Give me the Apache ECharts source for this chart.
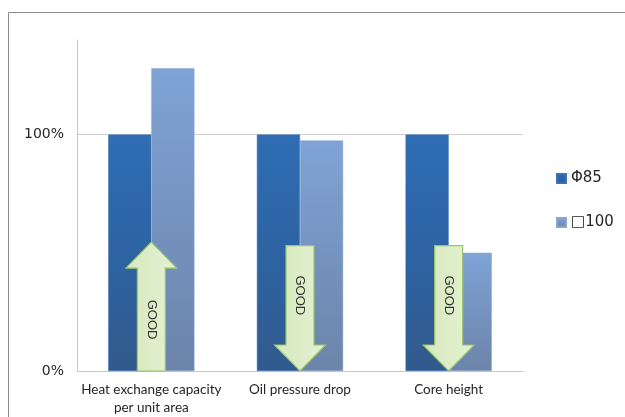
<!DOCTYPE html>
<html>
<head>
<meta charset="utf-8">
<script src="https://cdn.jsdelivr.net/npm/echarts@6/dist/echarts.min.js"></script>
<style>
  html, body { margin: 0; padding: 0; background: #ffffff; }
  #chart { width: 625px; height: 417px; }
</style>
</head>
<body>
<div id="chart"></div>
<script>
// Categories and series values (percent of the Φ85 baseline)
const categories = ['Heat exchange capacity\nper unit area', 'Oil pressure drop', 'Core height'];
const seriesNames = ['Φ85', '□100'];
const phi85 = [100, 100, 100];
const sq100 = [128, 97.5, 50];

// "GOOD" arrows: category index, start value, end value
const arrowCategory = [0, 1, 2];
const arrowFrom = [0, 53, 53];
const arrowTo = [54.5, 0, 0];
const arrowLabel = 'GOOD';

const yTicks = [0, 100];

const chart = echarts.init(document.getElementById('chart'), null, { renderer: 'canvas' });

const darkFill = new echarts.graphic.LinearGradient(0, 0, 0, 1, [
  { offset: 0, color: '#2f6db4' },
  { offset: 0.5, color: '#2d63a3' },
  { offset: 1, color: '#315a8c' }
]);
const lightFill = new echarts.graphic.LinearGradient(0, 0, 0, 1, [
  { offset: 0, color: '#7fa4d5' },
  { offset: 0.5, color: '#7593c0' },
  { offset: 1, color: '#6c84a9' }
]);

function arrowItem(params, api) {
  const cat = api.value(0);
  const p0 = api.coord([cat, api.value(1)]);
  const p1 = api.coord([cat, api.value(2)]);
  const cx = p0[0];
  const dir = p1[1] < p0[1] ? -1 : 1; // -1 points up
  const shaftHalf = 14;
  const headHalf = 25.5;
  const headLen = 26;
  const yStart = p0[1];
  const yTip = p1[1];
  const yBase = yTip - dir * headLen;
  const pts = [
    [cx - shaftHalf, yStart],
    [cx - shaftHalf, yBase],
    [cx - headHalf, yBase],
    [cx, yTip],
    [cx + headHalf, yBase],
    [cx + shaftHalf, yBase],
    [cx + shaftHalf, yStart]
  ];
  const shaftMid = (yStart + yBase) / 2;
  return {
    type: 'group',
    children: [
      {
        type: 'polygon',
        shape: { points: pts },
        style: {
          fill: new echarts.graphic.LinearGradient(0, 0, 1, 0, [
            { offset: 0, color: '#d6e9bd' },
            { offset: 1, color: '#e4f1d2' }
          ]),
          stroke: '#9cc46a',
          lineWidth: 1.2
        }
      },
      {
        type: 'text',
        x: cx,
        y: shaftMid,
        rotation: -Math.PI / 2,
        style: {
          text: arrowLabel,
          fill: '#333333',
          font: '13px "Liberation Sans", Arial, sans-serif',
          align: 'center',
          verticalAlign: 'middle'
        }
      }
    ]
  };
}

const option = {
  backgroundColor: '#ffffff',
  animation: false,
  graphic: [
    {
      type: 'rect',
      left: 6,
      top: 10,
      shape: { width: 700, height: 500 },
      style: { fill: 'none', stroke: '#8c8c8c', lineWidth: 1 },
      silent: true,
      z: -10
    }
  ],
  grid: { left: 77, right: 102, top: 40, bottom: 46, containLabel: false },
  legend: {
    orient: 'vertical',
    left: 556,
    top: 171,
    padding: 0,
    itemWidth: 9,
    itemHeight: 9,
    itemGap: 29,
    icon: 'rect',
    data: seriesNames,
    textStyle: { fontFamily: '"DejaVu Sans", Verdana, sans-serif', fontSize: 15, color: '#262626', padding: [2, 0, 0, 0] }
  },
  xAxis: {
    type: 'category',
    data: categories,
    axisLine: { show: true, lineStyle: { color: '#c8c8c8', width: 1 } },
    axisTick: { show: false },
    axisLabel: {
      margin: 10,
      fontFamily: 'Lato, "Liberation Sans Narrow", sans-serif',
      fontSize: 13.5,
      lineHeight: 18,
      color: '#262626',
      interval: 0
    }
  },
  yAxis: {
    type: 'value',
    min: 0,
    max: 140,
    interval: 100,
    axisLine: { show: true, lineStyle: { color: '#c8c8c8', width: 1 } },
    axisTick: { show: false },
    splitLine: { show: true, showMaxLine: false, lineStyle: { color: '#cfcfcf', width: 1 } },
    axisLabel: {
      margin: 13,
      fontFamily: '"DejaVu Sans", Verdana, sans-serif',
      fontSize: 14,
      color: '#262626',
      formatter: function (v) { return yTicks.indexOf(v) >= 0 ? v + '%' : ''; }
    }
  },
  series: [
    {
      name: seriesNames[0],
      type: 'bar',
      data: phi85,
      barGap: '0%',
      barCategoryGap: '42%',
      itemStyle: { color: darkFill, borderColor: '#3a74b8', borderWidth: 0.5 },
      z: 2
    },
    {
      name: seriesNames[1],
      type: 'bar',
      data: sq100,
      itemStyle: { color: lightFill, borderColor: '#86a7d4', borderWidth: 0.5 },
      z: 2
    },
    {
      name: 'arrows',
      type: 'custom',
      renderItem: arrowItem,
      encode: { x: 0, y: [1, 2] },
      data: arrowCategory.map(function (c, i) { return [c, arrowFrom[i], arrowTo[i]]; }),
      z: 5,
      silent: true
    }
  ]
};

chart.setOption(option);
</script>
</body>
</html>
